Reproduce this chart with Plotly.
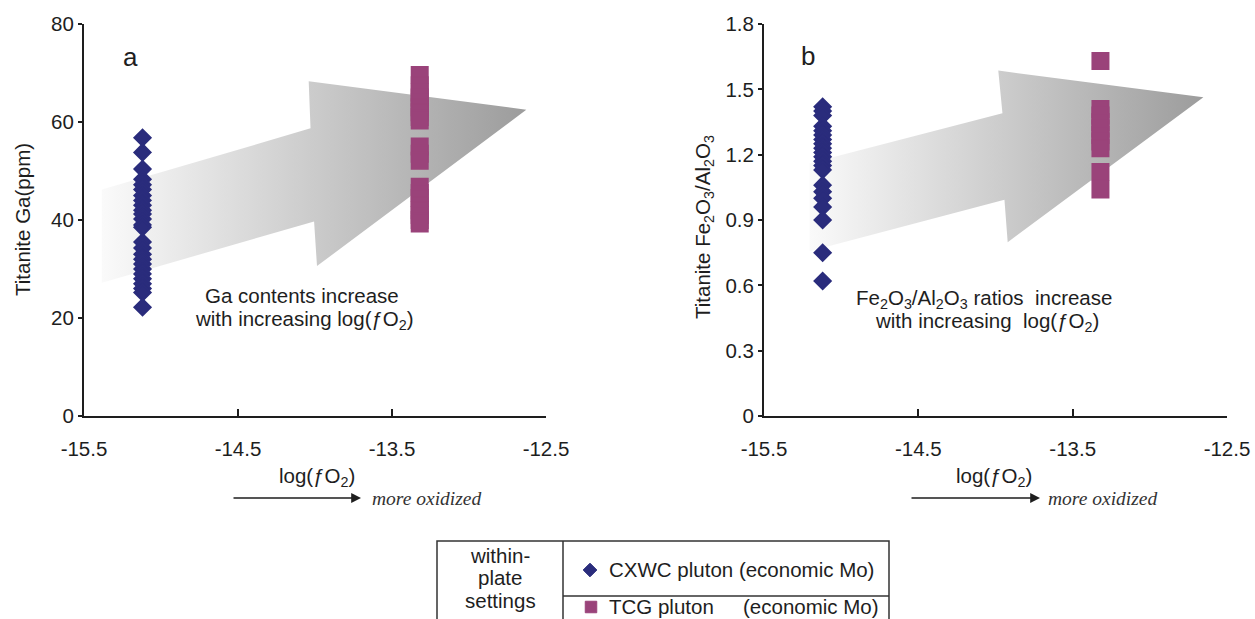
import plotly.graph_objects as go

W, H = 1255, 619

# ---- data -------------------------------------------------------------
# log(fO2) of each pluton
x_cxwc = -15.12
x_tcg = -13.32

# Titanite Ga (ppm)
ga_cxwc = [56.8, 53.8, 50.4, 48.3, 47.2, 46.2, 45.0, 44.0, 43.0, 42.0, 41.2,
           40.2, 39.0, 38.5, 35.5, 34.3, 33.0, 32.0, 31.0, 30.0, 29.0, 28.0,
           27.0, 26.0, 25.2, 22.2]
ga_tcg = [69.6, 67.5, 66.0, 65.0, 64.0, 63.0, 62.0, 61.0, 60.3, 55.0, 53.5,
          52.1, 46.8, 45.5, 44.5, 43.0, 42.0, 41.0, 40.0, 39.3]

# Titanite Fe2O3/Al2O3
fe_cxwc = [1.42, 1.40, 1.38, 1.33, 1.31, 1.29, 1.27, 1.25, 1.23, 1.21, 1.19,
           1.17, 1.15, 1.13, 1.06, 1.03, 1.00, 0.96, 0.90, 0.75, 0.62]
fe_tcg = [1.63, 1.41, 1.38, 1.35, 1.32, 1.29, 1.26, 1.23, 1.12, 1.04]

# axis ticks
x_ticks = [-15.5, -14.5, -13.5, -12.5]
ga_ticks = [0, 20, 40, 60, 80]
fe_ticks = [0, 0.3, 0.6, 0.9, 1.2, 1.5, 1.8]

# trend arrows (log fO2, value)
arrow_a_x = [-15.384, -14.029, -14.041, -12.628, -13.987, -14.006, -15.384]
arrow_a_y = [46.2, 58.7, 68.3, 62.5, 30.6, 39.7, 27.2]
arrow_b_x = [-15.205, -13.955, -13.982, -12.653, -13.921, -13.942, -15.205]
arrow_b_y = [1.161, 1.390, 1.586, 1.464, 0.798, 0.993, 0.756]

# ---- style ------------------------------------------------------------
BLUE = "#2a2c7c"
PINK = "#9a437a"
INK = "#1e1e1e"
FONT = "Liberation Sans, Arial, sans-serif"
SERIF = "Liberation Serif, Times New Roman, serif"
FS = 20.5


def X(p):
    return p / W


def Y(p):
    return 1 - p / H


fig = go.Figure()

# trend arrows with grey gradient
for ax_x, ax_y, xa, ya in [(arrow_a_x, arrow_a_y, "x", "y"),
                           (arrow_b_x, arrow_b_y, "x2", "y2")]:
    fig.add_trace(go.Scatter(
        x=ax_x, y=ax_y, xaxis=xa, yaxis=ya, mode="lines",
        line=dict(width=0), fill="toself",
        fillgradient=dict(type="horizontal",
                          colorscale=[[0, "#fafafa"], [1, "#9c9c9c"]]),
        hoverinfo="skip", showlegend=False))

diamond = dict(symbol="diamond", size=12.5, color=BLUE,
               line=dict(color=BLUE, width=2))
square = dict(symbol="square", size=16.5, color=PINK,
              line=dict(color=PINK, width=1.5))

fig.add_trace(go.Scatter(x=[x_cxwc] * len(ga_cxwc), y=ga_cxwc, mode="markers",
                         marker=diamond, xaxis="x", yaxis="y", showlegend=False))
fig.add_trace(go.Scatter(x=[x_tcg] * len(ga_tcg), y=ga_tcg, mode="markers",
                         marker=square, xaxis="x", yaxis="y", showlegend=False))
fig.add_trace(go.Scatter(x=[x_cxwc] * len(fe_cxwc), y=fe_cxwc, mode="markers",
                         marker=diamond, xaxis="x2", yaxis="y2", showlegend=False))
fig.add_trace(go.Scatter(x=[x_tcg] * len(fe_tcg), y=fe_tcg, mode="markers",
                         marker=square, xaxis="x2", yaxis="y2", showlegend=False))

# legend key symbols (pixel-space helper axis)
fig.add_trace(go.Scatter(x=[590], y=[570], mode="markers", xaxis="x3", yaxis="y3",
                         marker=dict(symbol="diamond", size=10.5, color=BLUE,
                                     line=dict(color=BLUE, width=1)),
                         showlegend=False, hoverinfo="skip"))
fig.add_trace(go.Scatter(x=[591], y=[607], mode="markers", xaxis="x3", yaxis="y3",
                         marker=dict(symbol="square", size=11.5, color=PINK,
                                     line=dict(color=PINK, width=1)),
                         showlegend=False, hoverinfo="skip"))

xaxis_common = dict(range=[-15.5, -12.5], tickvals=x_ticks,
                    ticktext=[str(v) for v in x_ticks],
                    ticks="inside", ticklen=7, tickwidth=1.5, tickcolor=INK,
                    showline=True, linewidth=2, linecolor=INK,
                    showgrid=False, zeroline=False, ticklabelstandoff=13,
                    automargin=False,
                    tickfont=dict(family=FONT, size=FS, color=INK))
yaxis_common = dict(ticks="outside", ticklen=4, tickwidth=1.5, tickcolor=INK,
                    showline=True, linewidth=2, linecolor=INK,
                    showgrid=False, zeroline=False, automargin=False,
                    tickfont=dict(family=FONT, size=FS, color=INK))

dom_y = [Y(416), Y(24)]
fig.update_layout(
    template="none",
    width=W, height=H,
    margin=dict(l=0, r=0, t=0, b=0, autoexpand=False),
    paper_bgcolor="white", plot_bgcolor="rgba(0,0,0,0)",
    font=dict(family=FONT, color=INK),
    xaxis=dict(domain=[X(84), X(546)], anchor="y", **xaxis_common),
    yaxis=dict(domain=dom_y, anchor="x", range=[0, 80], tickvals=ga_ticks,
               **yaxis_common),
    xaxis2=dict(domain=[X(764), X(1227)], anchor="y2", **xaxis_common),
    yaxis2=dict(domain=dom_y, anchor="x2", range=[0, 1.8], tickvals=fe_ticks,
                ticktext=[f"{v:g}" for v in fe_ticks], **yaxis_common),
    xaxis3=dict(domain=[X(437), X(889)], anchor="y3", range=[437, 889],
                visible=False, fixedrange=True, automargin=False),
    yaxis3=dict(domain=[0, Y(541)], anchor="x3", range=[619, 541],
                visible=False, fixedrange=True, automargin=False),
)

ann = []


def text(x, y, s, size=FS, family=FONT, xanchor="center", angle=0, color=INK):
    ann.append(dict(x=X(x), y=Y(y), xref="paper", yref="paper", text=s,
                    showarrow=False, xanchor=xanchor, yanchor="middle",
                    textangle=angle, font=dict(family=family, size=size,
                                               color=color)))


FO2 = "log(\u0192O<sub>2</sub>)"

# panel letters
text(130, 57, "a", size=26)
text(808, 56, "b", size=26)

# trend notes
text(302, 295, "Ga contents increase")
text(304, 320, "with increasing " + FO2)
text(984, 299, "Fe<sub>2</sub>O<sub>3</sub>/Al<sub>2</sub>O<sub>3</sub> ratios\u00a0 increase")
text(987, 322, "with increasing\u00a0 " + FO2)

# axis titles
text(22, 220, "Titanite Ga(ppm)", angle=-90)
text(704, 227, "Titanite Fe<sub>2</sub>O<sub>3</sub>/Al<sub>2</sub>O<sub>3</sub>", angle=-90)
text(317, 477, FO2)
text(994, 477, FO2)

# "more oxidized" direction hints
for x0, x1, xt in [(232, 361, 370), (910, 1040, 1046)]:
    ann.append(dict(x=X(x1), y=Y(498), xref="paper", yref="paper", text="",
                    showarrow=True, ax=x0 - x1, ay=0, axref="pixel", ayref="pixel",
                    arrowhead=2, arrowsize=1.4, arrowwidth=1.4, arrowcolor=INK,
                    standoff=0, startstandoff=0))
    text(xt, 498, "<i>more oxidized</i>", size=19.5, family=SERIF,
         xanchor="left", color="#333333")

# legend table
text(500, 555, "within-")
text(500, 577, "plate")
text(500, 600, "settings")
text(607, 569, "CXWC pluton (economic Mo)", xanchor="left")
text(607, 606, "TCG pluton", xanchor="left")
text(741, 606, "(economic Mo)", xanchor="left")

border = dict(color="#333333", width=1.5)
shapes = [
    dict(type="rect", xref="paper", yref="paper", x0=X(437), x1=X(889),
         y0=Y(541), y1=Y(660), line=border),
    dict(type="line", xref="paper", yref="paper", x0=X(563), x1=X(563),
         y0=Y(541), y1=Y(660), line=border),
    dict(type="line", xref="paper", yref="paper", x0=X(563), x1=X(889),
         y0=Y(596), y1=Y(596), line=border),
]

fig.update_layout(annotations=ann, shapes=shapes)

fig.write_html("out.html")
